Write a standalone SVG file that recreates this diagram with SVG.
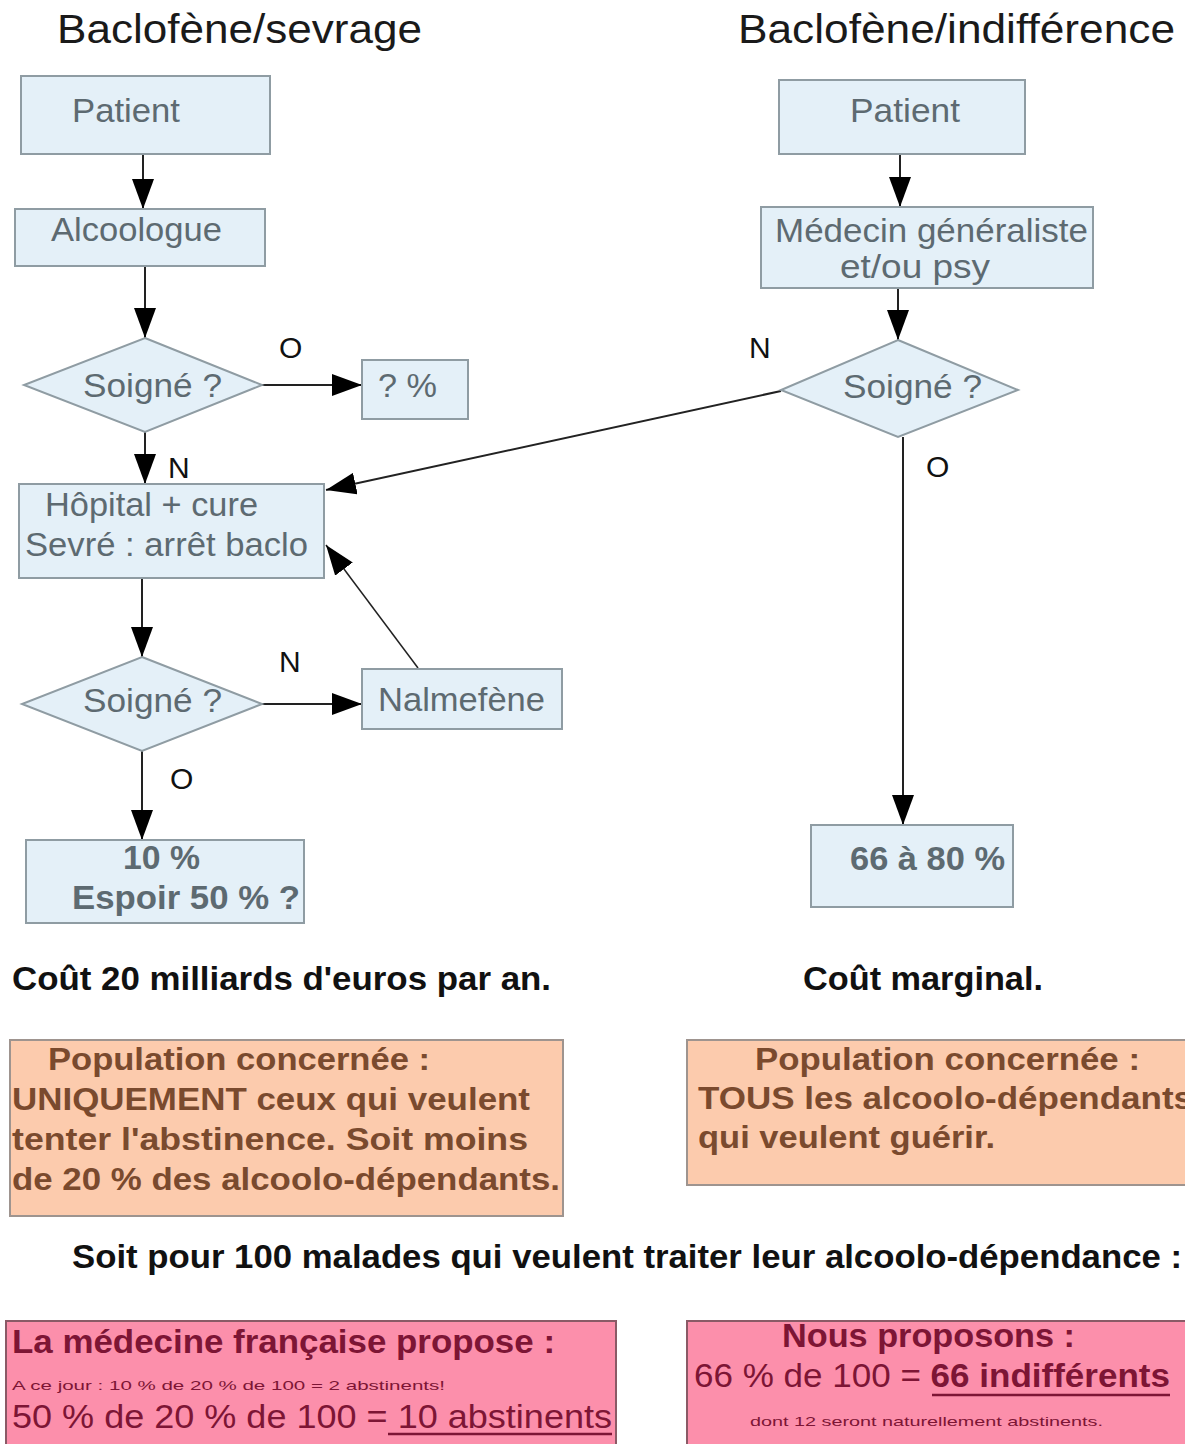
<svg xmlns="http://www.w3.org/2000/svg" width="1185" height="1444" viewBox="0 0 1185 1444">
<style>
  .title{font-family:"Liberation Sans",Arial,sans-serif;font-size:41px;fill:#1a1a1a}
  .box{fill:#e4f0f8;stroke:#8f9ca3;stroke-width:2}
  .nt{font-family:"Liberation Sans",Arial,sans-serif;font-size:33px;fill:#5d6a71}
  .ntb{font-family:"Liberation Sans",Arial,sans-serif;font-size:33px;font-weight:bold;fill:#5d6a71}
  .lbl{font-family:"Liberation Sans",Arial,sans-serif;font-size:30px;fill:#111}
  .cost{font-family:"Liberation Sans",Arial,sans-serif;font-size:33px;font-weight:bold;fill:#111}
  .obox{fill:#fccbad;stroke:#9e948f;stroke-width:2}
  .ot{font-family:"Liberation Sans",Arial,sans-serif;font-size:32px;font-weight:bold;fill:#7a4a2e}
  .pbox{fill:#fc8fab;stroke:#8a5a66;stroke-width:2}
  .pt{font-family:"Liberation Sans",Arial,sans-serif;font-size:33px;fill:#7d1535}
  .pts{font-family:"Liberation Sans",Arial,sans-serif;font-size:13px;fill:#7d1535}
  .conn{stroke:#222;stroke-width:2;fill:none;marker-end:url(#ah)}
</style>
<defs>
  <marker id="ah" markerUnits="userSpaceOnUse" markerWidth="30" markerHeight="22" refX="30" refY="11" orient="auto">
    <path d="M0,0 L30,11 L0,22 z" fill="#000"/>
  </marker>
</defs>
<rect width="1185" height="1444" fill="#fff"/>

<text class="title" x="57" y="43" textLength="365" lengthAdjust="spacingAndGlyphs">Baclofène/sevrage</text>
<text class="title" x="738" y="43" textLength="437" lengthAdjust="spacingAndGlyphs">Baclofène/indifférence</text>

<g id="connectors">
  <line class="conn" x1="143" y1="154" x2="143" y2="209"/>
  <line class="conn" x1="145" y1="266" x2="145" y2="338"/>
  <line class="conn" x1="262" y1="385" x2="362" y2="385"/>
  <line class="conn" x1="145" y1="432" x2="145" y2="484"/>
  <line class="conn" x1="142" y1="578" x2="142" y2="657"/>
  <line class="conn" x1="262" y1="704" x2="362" y2="704"/>
  <line class="conn" x1="418" y1="668" x2="326" y2="545" style="stroke-width:1.5"/>
  <line class="conn" x1="142" y1="751" x2="142" y2="840"/>
  <line class="conn" x1="900" y1="154" x2="900" y2="207"/>
  <line class="conn" x1="898" y1="288" x2="898" y2="340"/>
  <line class="conn" x1="781" y1="391" x2="326" y2="490"/>
  <line class="conn" x1="903" y1="437" x2="903" y2="825"/>
  <text class="lbl" x="279" y="358">O</text>
  <text class="lbl" x="168" y="478">N</text>
  <text class="lbl" x="279" y="672">N</text>
  <text class="lbl" x="170" y="789">O</text>
  <text class="lbl" x="749" y="358">N</text>
  <text class="lbl" x="926" y="477">O</text>
</g>

<g id="patient-l">
  <rect class="box" x="21" y="76" width="249" height="78"/>
  <text class="nt" x="72" y="122" textLength="108" lengthAdjust="spacingAndGlyphs">Patient</text>
</g>
<g id="alcoologue">
  <rect class="box" x="15" y="209" width="250" height="57"/>
  <text class="nt" x="51" y="241" textLength="171" lengthAdjust="spacingAndGlyphs">Alcoologue</text>
</g>
<g id="soigne-1">
  <polygon class="box" points="145,338 262,385 145,432 24,385"/>
  <text class="nt" x="83" y="397" textLength="139" lengthAdjust="spacingAndGlyphs">Soigné ?</text>
</g>
<g id="pct">
  <rect class="box" x="362" y="360" width="106" height="59"/>
  <text class="nt" x="378" y="397" textLength="59" lengthAdjust="spacingAndGlyphs">? %</text>
</g>
<g id="hopital">
  <rect class="box" x="19" y="484" width="305" height="94"/>
  <text class="nt" x="45" y="516" textLength="213" lengthAdjust="spacingAndGlyphs">Hôpital + cure</text>
  <text class="nt" x="25" y="556" textLength="283" lengthAdjust="spacingAndGlyphs">Sevré : arrêt baclo</text>
</g>
<g id="soigne-2">
  <polygon class="box" points="142,657 262,704 142,751 22,704"/>
  <text class="nt" x="83" y="712" textLength="139" lengthAdjust="spacingAndGlyphs">Soigné ?</text>
</g>
<g id="nalmefene">
  <rect class="box" x="362" y="669" width="200" height="60"/>
  <text class="nt" x="378" y="711" textLength="167" lengthAdjust="spacingAndGlyphs">Nalmefène</text>
</g>
<g id="result-l">
  <rect class="box" x="26" y="840" width="278" height="83"/>
  <text class="ntb" x="123" y="869" textLength="77" lengthAdjust="spacingAndGlyphs">10 %</text>
  <text class="ntb" x="72" y="909" textLength="228" lengthAdjust="spacingAndGlyphs">Espoir 50 % ?</text>
</g>

<g id="patient-r">
  <rect class="box" x="779" y="80" width="246" height="74"/>
  <text class="nt" x="850" y="122" textLength="110" lengthAdjust="spacingAndGlyphs">Patient</text>
</g>
<g id="medecin">
  <rect class="box" x="761" y="207" width="332" height="81"/>
  <text class="nt" x="775" y="242" textLength="313" lengthAdjust="spacingAndGlyphs">Médecin généraliste</text>
  <text class="nt" x="840" y="278" textLength="150" lengthAdjust="spacingAndGlyphs">et/ou  psy</text>
</g>
<g id="soigne-3">
  <polygon class="box" points="898,340 1018,390 898,437 781,390"/>
  <text class="nt" x="843" y="398" textLength="139" lengthAdjust="spacingAndGlyphs">Soigné ?</text>
</g>
<g id="result-r">
  <rect class="box" x="811" y="825" width="202" height="82"/>
  <text class="ntb" x="850" y="870" textLength="155" lengthAdjust="spacingAndGlyphs">66 à 80 %</text>
</g>

<text class="cost" x="12" y="990" textLength="539" lengthAdjust="spacingAndGlyphs">Coût 20 milliards d'euros par an.</text>
<text class="cost" x="803" y="990" textLength="240" lengthAdjust="spacingAndGlyphs">Coût marginal.</text>

<g id="population-l">
  <rect class="obox" x="10" y="1040" width="553" height="176"/>
  <text class="ot" x="48" y="1070" textLength="382" lengthAdjust="spacingAndGlyphs">Population concernée :</text>
  <text class="ot" x="12" y="1110" textLength="518" lengthAdjust="spacingAndGlyphs">UNIQUEMENT ceux qui veulent</text>
  <text class="ot" x="12" y="1150" textLength="516" lengthAdjust="spacingAndGlyphs">tenter l'abstinence. Soit  moins</text>
  <text class="ot" x="12" y="1190" textLength="548" lengthAdjust="spacingAndGlyphs">de 20 % des alcoolo-dépendants.</text>
</g>
<g id="population-r">
  <rect class="obox" x="687" y="1040" width="510" height="145"/>
  <text class="ot" x="755" y="1070" textLength="385" lengthAdjust="spacingAndGlyphs">Population concernée :</text>
  <text class="ot" x="698" y="1109" textLength="495" lengthAdjust="spacingAndGlyphs">TOUS les alcoolo-dépendants</text>
  <text class="ot" x="698" y="1148" textLength="297" lengthAdjust="spacingAndGlyphs">qui veulent guérir.</text>
</g>

<text class="cost" x="72" y="1268" textLength="1110" lengthAdjust="spacingAndGlyphs">Soit pour 100 malades qui veulent traiter leur alcoolo-dépendance :</text>

<g id="propose-l">
  <rect class="pbox" x="6" y="1321" width="610" height="130"/>
  <text class="pt" x="12" y="1353" font-weight="bold" textLength="543" lengthAdjust="spacingAndGlyphs">La médecine française propose :</text>
  <text class="pts" x="12" y="1390" textLength="433" lengthAdjust="spacingAndGlyphs">A ce jour : 10 % de 20 % de 100 = 2 abstinents!</text>
  <text class="pt" x="12" y="1428" textLength="600" lengthAdjust="spacingAndGlyphs">50 % de 20 % de 100 = 10 abstinents</text>
  <line x1="388" y1="1434" x2="612" y2="1434" stroke="#7d1535" stroke-width="2.5"/>
</g>
<g id="propose-r">
  <rect class="pbox" x="687" y="1321" width="510" height="130"/>
  <text class="pt" x="782" y="1347" font-weight="bold" textLength="293" lengthAdjust="spacingAndGlyphs">Nous proposons :</text>
  <text class="pt" x="694" y="1387" textLength="476" lengthAdjust="spacingAndGlyphs">66 % de 100 = <tspan font-weight="bold">66 indifférents</tspan></text>
  <line x1="932" y1="1395" x2="1170" y2="1395" stroke="#7d1535" stroke-width="2.5"/>
  <text class="pts" x="750" y="1426" textLength="353" lengthAdjust="spacingAndGlyphs">dont 12 seront naturellement abstinents.</text>
</g>
</svg>
